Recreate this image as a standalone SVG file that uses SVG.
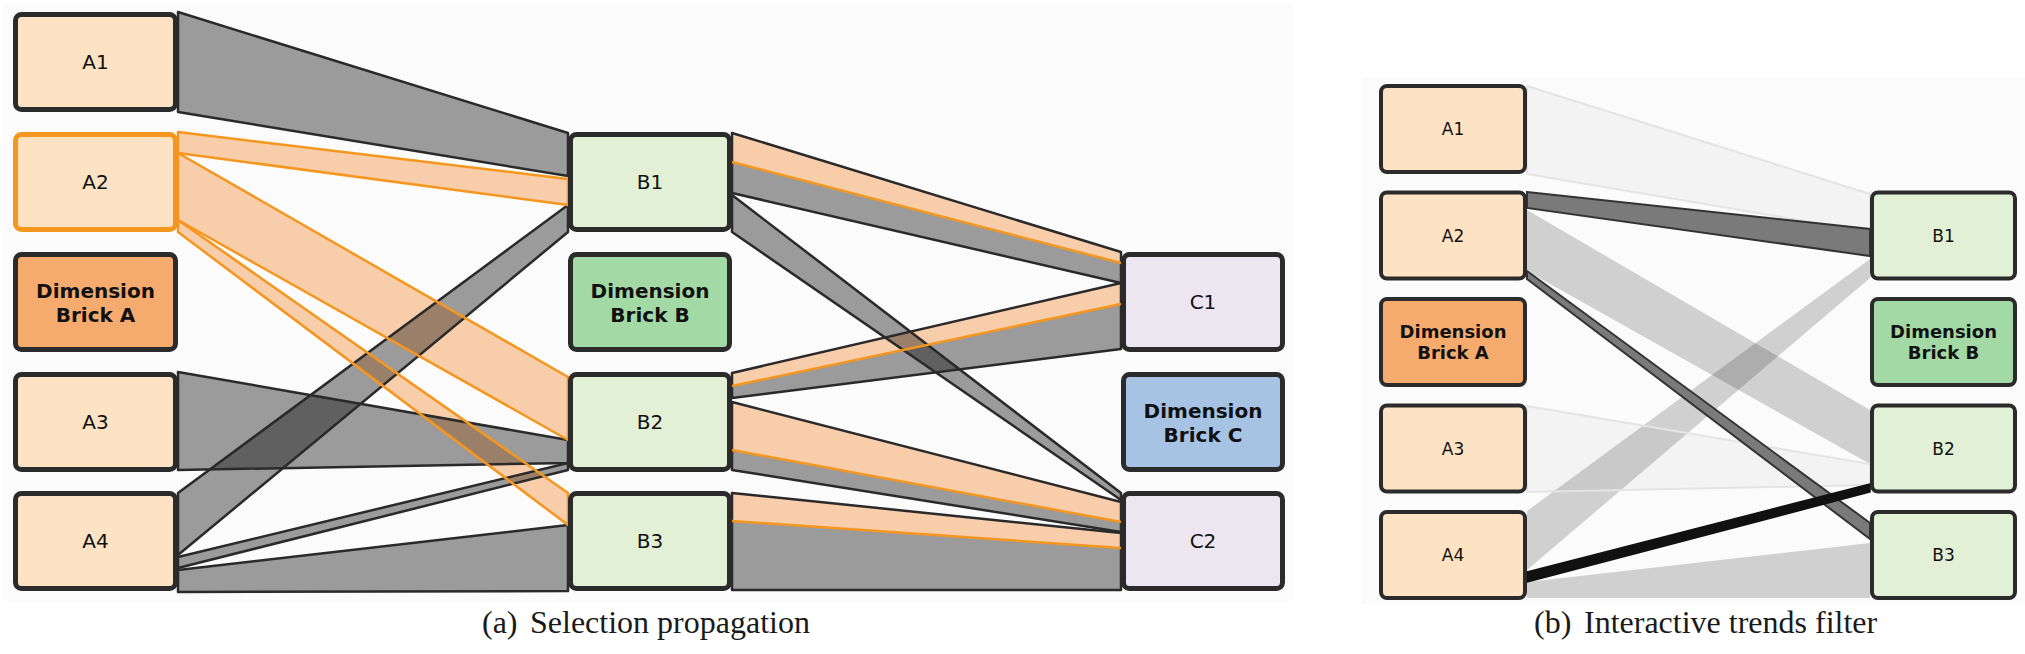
<svg xmlns="http://www.w3.org/2000/svg" xmlns:xlink="http://www.w3.org/1999/xlink" width="2025" height="654" viewBox="0 0 2025 654">
<style>
.box{stroke:#2b2b2b;stroke-width:5}
.rb{stroke:#2b2b2b;stroke-width:4}
.sel{stroke:#f5961e}
.a{fill:#fde3c4}.dA{fill:#f6ab6e}.b{fill:#e2f0d6}.dB{fill:#a3d9a5}.c{fill:#ece6f1}.dC{fill:#a6c3e3}
.lbl{font-family:"DejaVu Sans",sans-serif;font-size:20px;text-anchor:middle;fill:#111}
.rl{font-family:"DejaVu Sans",sans-serif;font-size:17px;text-anchor:middle;fill:#111}
.dim{font-weight:bold;font-size:20px}
.rdim{font-weight:bold;font-size:18px}
.cap{font-family:"Liberation Serif","Times New Roman",serif;font-size:32px;fill:#1a1a1a}
.gf{fill:#000;fill-opacity:.38;stroke:none}
.pf{fill:#f4a05a;fill-opacity:.5;stroke:none}
.gs{fill:none;stroke:#2a2a2a;stroke-width:2.5;stroke-linejoin:round}
.os{fill:none;stroke:#f5961e;stroke-width:2.5;stroke-linejoin:round}
.lf{fill:#000;fill-opacity:.17;stroke:none}
.ff{fill:#000;fill-opacity:.03;stroke:#e4e4e4;stroke-width:2}
.df{fill:#7a7a7a;stroke:#333;stroke-width:2}
.kf{fill:#111;stroke:#111;stroke-width:1.5}
</style>
<defs>
<path id="g1" d="M178 12 L568 133 L568 176 L178 112 Z"/>
<path id="p1" d="M178 132 L568 179 L568 205 L178 153 Z"/>
<path id="p2" d="M178 153 L568 377 L568 440 L178 220 Z"/>
<path id="p3" d="M178 220 L568 493 L568 525 L178 232 Z"/>
<path id="g2" d="M178 372 L568 440 L568 463 L178 470 Z"/>
<path id="g3" d="M178 493 L568 205 L568 232 L178 555 Z"/>
<path id="g4" d="M178 557 L568 463 L568 470 L178 568 Z"/>
<path id="g5" d="M178 570 L568 525 L568 591 L178 592 Z"/>
<path id="r1" d="M732 133 L1121 252 L1121 283 L732 193 Z"/>
<path id="r1p" d="M732 133 L1121 252 L1121 263 L732 162 Z"/>
<path id="r1g" d="M732 162 L1121 263 L1121 283 L732 193 Z"/>
<path id="r1s" d="M732 162 L1121 263"/>
<path id="r2" d="M732 195 L1121 493 L1121 500 L732 232 Z"/>
<path id="r3" d="M732 373 L1121 283 L1121 349 L732 398 Z"/>
<path id="r3p" d="M732 373 L1121 283 L1121 304 L732 386 Z"/>
<path id="r3g" d="M732 386 L1121 304 L1121 349 L732 398 Z"/>
<path id="r3s" d="M732 386 L1121 304"/>
<path id="r4" d="M732 402 L1121 502 L1121 532 L732 470 Z"/>
<path id="r4p" d="M732 402 L1121 502 L1121 522 L732 450 Z"/>
<path id="r4g" d="M732 450 L1121 522 L1121 532 L732 470 Z"/>
<path id="r4s" d="M732 450 L1121 522"/>
<path id="r5" d="M732 493 L1121 533 L1121 590 L732 590 Z"/>
<path id="r5p" d="M732 493 L1121 533 L1121 548 L732 521 Z"/>
<path id="r5g" d="M732 521 L1121 548 L1121 590 L732 590 Z"/>
<path id="r5s" d="M732 521 L1121 548"/>
</defs>
<rect x="0" y="0" width="2025" height="654" fill="#ffffff"/>
<rect x="3" y="4" width="1290" height="598" fill="#fcfbfb"/>
<rect x="1362" y="78" width="663" height="526" fill="#fcfbfb"/>
<g id="connectors">
<use href="#p1" class="pf"/><use href="#p2" class="pf"/><use href="#p3" class="pf"/>
<use href="#r1p" class="pf"/><use href="#r3p" class="pf"/><use href="#r4p" class="pf"/><use href="#r5p" class="pf"/>
<use href="#g1" class="gf"/><use href="#g2" class="gf"/><use href="#g3" class="gf"/><use href="#g4" class="gf"/><use href="#g5" class="gf"/>
<use href="#r1g" class="gf"/><use href="#r2" class="gf"/><use href="#r3g" class="gf"/><use href="#r4g" class="gf"/><use href="#r5g" class="gf"/>
<use href="#g1" class="gs"/><use href="#g2" class="gs"/><use href="#g3" class="gs"/><use href="#g4" class="gs"/><use href="#g5" class="gs"/>
<use href="#r1" class="gs"/><use href="#r2" class="gs"/><use href="#r3" class="gs"/><use href="#r4" class="gs"/><use href="#r5" class="gs"/>
<use href="#p1" class="os"/><use href="#p2" class="os"/><use href="#p3" class="os"/>
<use href="#r1s" class="os"/><use href="#r3s" class="os"/><use href="#r4s" class="os"/><use href="#r5s" class="os"/>
<path class="lf" d="M1527 210 L1870 410 L1870 464 L1527 271 Z"/>
<path class="lf" d="M1527 511 L1870 259 L1870 278 L1527 570 Z"/>
<path class="lf" d="M1527 582 L1870 543 L1870 598 L1527 598 Z"/>
<path class="ff" d="M1527 86 L1870 194 L1870 232 L1527 174 Z"/>
<path class="ff" d="M1527 406 L1870 464 L1870 485 L1527 492 Z"/>
<path class="df" d="M1527 192 L1870 229 L1870 256 L1527 208 Z"/>
<path class="df" d="M1527 271 L1870 523 L1870 539 L1527 279 Z"/>
<path class="kf" d="M1527 572 L1870 484 L1870 492 L1527 582 Z"/>
</g>
<g id="A1"><rect class="box a" x="15.5" y="14.5" width="160" height="95" rx="6"/><text class="lbl" x="95.5" y="69">A1</text></g>
<g id="A2"><rect class="box a sel" x="15.5" y="134.5" width="160" height="95" rx="6"/><text class="lbl" x="95.5" y="189">A2</text></g>
<g id="DimA"><rect class="box dA" x="15.5" y="254.5" width="160" height="95" rx="6"/><text class="lbl dim" x="95.5" y="298">Dimension</text><text class="lbl dim" x="95.5" y="322">Brick A</text></g>
<g id="A3"><rect class="box a" x="15.5" y="374.5" width="160" height="95" rx="6"/><text class="lbl" x="95.5" y="429">A3</text></g>
<g id="A4"><rect class="box a" x="15.5" y="493.5" width="160" height="95" rx="6"/><text class="lbl" x="95.5" y="548">A4</text></g>
<g id="B1"><rect class="box b" x="570.5" y="134.5" width="159" height="95" rx="6"/><text class="lbl" x="650" y="189">B1</text></g>
<g id="DimB"><rect class="box dB" x="570.5" y="254.5" width="159" height="95" rx="6"/><text class="lbl dim" x="650" y="298">Dimension</text><text class="lbl dim" x="650" y="322">Brick B</text></g>
<g id="B2"><rect class="box b" x="570.5" y="374.5" width="159" height="95" rx="6"/><text class="lbl" x="650" y="429">B2</text></g>
<g id="B3"><rect class="box b" x="570.5" y="493.5" width="159" height="95" rx="6"/><text class="lbl" x="650" y="548">B3</text></g>
<g id="C1"><rect class="box c" x="1123.5" y="254.5" width="159" height="95" rx="6"/><text class="lbl" x="1203" y="309">C1</text></g>
<g id="DimC"><rect class="box dC" x="1123.5" y="374.5" width="159" height="95" rx="6"/><text class="lbl dim" x="1203" y="418">Dimension</text><text class="lbl dim" x="1203" y="442">Brick C</text></g>
<g id="C2"><rect class="box c" x="1123.5" y="493.5" width="159" height="95" rx="6"/><text class="lbl" x="1203" y="548">C2</text></g>
<g id="rA1"><rect class="rb a" x="1381" y="86" width="144" height="86" rx="6"/><text class="rl" x="1453" y="135">A1</text></g>
<g id="rA2"><rect class="rb a" x="1381" y="192.5" width="144" height="86" rx="6"/><text class="rl" x="1453" y="241.5">A2</text></g>
<g id="rDimA"><rect class="rb dA" x="1381" y="299" width="144" height="86" rx="6"/><text class="rl rdim" x="1453" y="338">Dimension</text><text class="rl rdim" x="1453" y="359">Brick A</text></g>
<g id="rA3"><rect class="rb a" x="1381" y="405.5" width="144" height="86" rx="6"/><text class="rl" x="1453" y="454.5">A3</text></g>
<g id="rA4"><rect class="rb a" x="1381" y="512" width="144" height="86" rx="6"/><text class="rl" x="1453" y="561">A4</text></g>
<g id="rB1"><rect class="rb b" x="1872" y="192.5" width="143" height="86" rx="6"/><text class="rl" x="1943.5" y="241.5">B1</text></g>
<g id="rDimB"><rect class="rb dB" x="1872" y="299" width="143" height="86" rx="6"/><text class="rl rdim" x="1943.5" y="338">Dimension</text><text class="rl rdim" x="1943.5" y="359">Brick B</text></g>
<g id="rB2"><rect class="rb b" x="1872" y="405.5" width="143" height="86" rx="6"/><text class="rl" x="1943.5" y="454.5">B2</text></g>
<g id="rB3"><rect class="rb b" x="1872" y="512" width="143" height="86" rx="6"/><text class="rl" x="1943.5" y="561">B3</text></g>
<text class="cap" x="482" y="633">(a)<tspan x="530">Selection propagation</tspan></text>
<text class="cap" x="1534" y="633">(b)<tspan x="1584">Interactive trends filter</tspan></text>
</svg>
